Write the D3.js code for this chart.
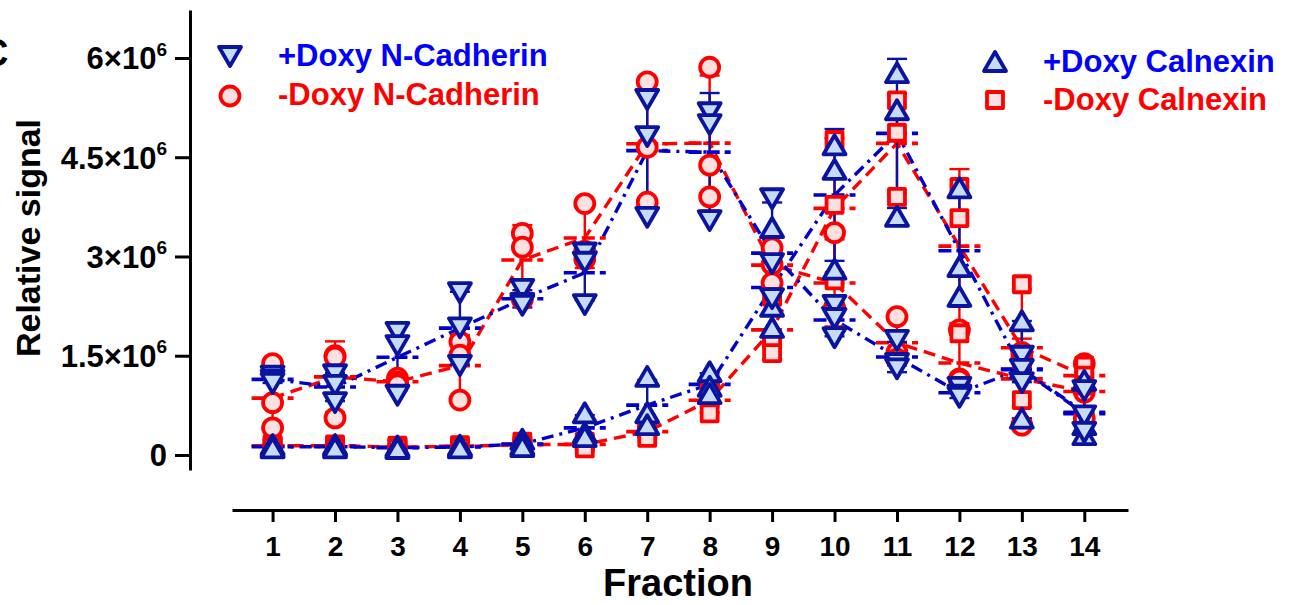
<!DOCTYPE html>
<html><head><meta charset="utf-8">
<script src="https://cdn.jsdelivr.net/npm/d3@7/dist/d3.min.js"></script>
<style>
body{margin:0;background:#fff}
svg{display:block}
text{font-family:"Liberation Sans",Arial,Helvetica,sans-serif;font-weight:bold}
</style>
</head><body>
<svg id="chart" width="1291" height="605"></svg>
<script>
// ---------- data (values in units of 10^6) ----------
const fractions = [1,2,3,4,5,6,7,8,9,10,11,12,13,14];
const xTickLabels = ["1","2","3","4","5","6","7","8","9","10","11","12","13","14"];
const yTickValues = [0,1.5,3,4.5,6];
const yTickBases = ["0","1.5","3","4.5","6"];

const seriesNames = ["+Doxy N-Cadherin","-Doxy N-Cadherin","+Doxy Calnexin","-Doxy Calnexin"];

const ncadPlus = [[1.20,1.14,1.09],[1.22,1.06,0.80],[1.86,1.66,0.91],[2.46,1.93,1.36],[2.51,2.30,2.27],[3.06,2.92,2.28],[5.38,4.82,3.60],[5.18,5.00,3.55],[3.88,2.90,2.37],[2.27,2.07,1.78],[1.74,1.39,1.31],[1.03,0.91,0.88],[1.50,1.30,1.10],[0.98,0.60,0.35]];
const ncadMinus = [[1.38,0.79,0.41],[1.50,1.48,0.56],[1.16,1.10,1.06],[1.71,1.51,0.83],[3.35,3.14,2.35],[3.80,3.08,2.96],[5.64,4.65,3.82],[5.86,4.38,3.90],[3.13,2.88,2.60],[3.36,2.22,2.22],[2.09,1.55,1.45],[1.89,1.15,1.13],[1.55,1.45,0.45],[1.38,0.95,0.55]];
const calPlus = [[0.15,0.12,0.10],[0.15,0.13,0.10],[0.13,0.11,0.09],[0.14,0.12,0.10],[0.23,0.15,0.12],[0.63,0.33,0.27],[1.18,0.63,0.45],[1.25,1.03,0.92],[3.43,2.24,1.92],[4.68,4.31,2.80],[5.77,5.21,3.60],[4.03,2.84,2.39],[2.02,1.30,0.55],[1.12,0.45,0.30]];
const calMinus = [[0.16,0.14,0.12],[0.16,0.14,0.12],[0.14,0.12,0.10],[0.15,0.13,0.11],[0.20,0.15,0.12],[0.20,0.18,0.10],[0.42,0.38,0.26],[1.00,0.85,0.63],[2.39,1.74,1.54],[4.76,3.78,2.64],[5.36,4.87,3.90],[4.05,3.58,1.84],[2.58,1.45,0.83],[1.35,1.20,1.05]];

// ---------- styles ----------
const BLUE_LINE = "#0000cc", BLUE_MARK = "#0a149e", BLUE_FILL = "#c6dcf6", BLUE_TEXT = "#0000ff";
const RED = "#ff0000", RED_FILL = "#fde0e0";
const DASH_RED = "12,7", DASH_BLUE = "12,6,3,6";

const series = [
  {name: seriesNames[1], data: ncadMinus, shape: "circle", stroke: RED, fill: RED_FILL, line: RED, dash: DASH_RED},
  {name: seriesNames[3], data: calMinus, shape: "square", stroke: RED, fill: RED_FILL, line: RED, dash: DASH_RED},
  {name: seriesNames[2], data: calPlus, shape: "up", stroke: BLUE_MARK, fill: BLUE_FILL, line: BLUE_LINE, dash: DASH_BLUE},
  {name: seriesNames[0], data: ncadPlus, shape: "down", stroke: BLUE_MARK, fill: BLUE_FILL, line: BLUE_LINE, dash: DASH_BLUE}
];

const svg = d3.select("#chart");
const x = d3.scaleLinear().domain([0.35, 14.7]).range([232, 1128]);
const y = d3.scaleLinear().domain([-0.227, 6.725]).range([470, 10]);

function shapePath(s){
  if (s === "down") return "M-11,-9L11,-9L0,10Z";
  if (s === "up") return "M-11,9L11,9L0,-10Z";
  if (s === "square") return "M-8,-8L8,-8L8,8L-8,8Z";
  return d3.symbol(d3.symbolCircle, Math.PI*9.5*9.5)();
}

// ---------- axes ----------
const yAxis = d3.axisLeft(y).tickValues(yTickValues).tickSize(15).tickSizeOuter(0).tickPadding(9)
  .tickFormat(()=> "");
const gy = svg.append("g").attr("transform","translate(190,0)").call(yAxis);
gy.select(".domain").attr("stroke","#000").attr("stroke-width",3);
gy.selectAll(".tick line").attr("stroke","#000").attr("stroke-width",3);
gy.selectAll(".tick text").each(function(d,i){
  const t = d3.select(this).attr("font-size",31).attr("fill","#000").attr("x",-23).attr("dy","0.35em");
  t.append("tspan").text(yTickBases[i] === "0" ? "0" : yTickBases[i] + "×10");
  if (yTickBases[i] !== "0") t.append("tspan").attr("font-size",19).attr("dy","-0.72em").text("6");
});

const xAxis = d3.axisBottom(x).tickValues(fractions).tickSize(12).tickSizeOuter(0).tickPadding(14)
  .tickFormat((d,i)=> xTickLabels[i]);
const gx = svg.append("g").attr("transform","translate(0,510)").call(xAxis);
gx.select(".domain").attr("stroke","#000").attr("stroke-width",3);
gx.selectAll(".tick line").attr("stroke","#000").attr("stroke-width",3);
gx.selectAll(".tick text").attr("font-size",28).attr("fill","#000");

svg.append("text").attr("x",678).attr("y",596).attr("text-anchor","middle")
  .attr("font-size",38).attr("fill","#000").text("Fraction");
svg.append("text").attr("transform","translate(40,238) rotate(-90)").attr("text-anchor","middle")
  .attr("font-size",34).attr("fill","#000").text("Relative signal");
svg.append("text").attr("x",-19).attr("y",66).attr("font-size",38).attr("fill","#000").text("C");

// ---------- connecting lines ----------
const plot = svg.append("g");
series.forEach(s=>{
  const means = s.data.map(v=>d3.mean(v));
  plot.append("path").datum(means)
    .attr("d", d3.line().x((d,i)=>x(fractions[i])).y(d=>y(d)))
    .attr("fill","none").attr("stroke",s.line).attr("stroke-width",3.4)
    .attr("stroke-dasharray",s.dash);
});

// ---------- mean bars and error bars ----------
series.forEach(s=>{
  s.data.forEach((v,i)=>{
    const m = d3.mean(v), sd = d3.deviation(v), cx = x(fractions[i]);
    const g = plot.append("g");
    g.append("line").attr("x1",cx).attr("x2",cx).attr("y1",y(m-sd)).attr("y2",y(m+sd))
      .attr("stroke",s.stroke).attr("stroke-width",2.4);
    [m-sd, m+sd].forEach(e=>{
      g.append("line").attr("x1",cx-10).attr("x2",cx+10).attr("y1",y(e)).attr("y2",y(e))
        .attr("stroke",s.stroke).attr("stroke-width",2.4);
    });
    g.append("line").attr("x1",cx-21).attr("x2",cx+21).attr("y1",y(m)).attr("y2",y(m))
      .attr("stroke",s.line).attr("stroke-width",3.6).attr("stroke-dasharray","13,5");
  });
});

// ---------- points ----------
series.forEach(s=>{
  s.data.forEach((v,i)=>{
    v.forEach(val=>{
      plot.append("path").attr("d",shapePath(s.shape))
        .attr("transform",`translate(${x(fractions[i])},${y(val)})`)
        .attr("fill",s.fill).attr("stroke",s.stroke).attr("stroke-width",3.8)
        .attr("stroke-linejoin","round");
    });
  });
});

// ---------- legend ----------
const legendItems = [
  {shape:"down", stroke:BLUE_MARK, fill:BLUE_FILL, color:BLUE_TEXT, text:seriesNames[0], sx:230, sy:56, tx:278, ty:66},
  {shape:"circle", stroke:RED, fill:RED_FILL, color:RED, text:seriesNames[1], sx:230, sy:96, tx:278, ty:105},
  {shape:"up", stroke:BLUE_MARK, fill:BLUE_FILL, color:BLUE_TEXT, text:seriesNames[2], sx:995, sy:62, tx:1043, ty:72},
  {shape:"square", stroke:RED, fill:RED_FILL, color:RED, text:seriesNames[3], sx:995, sy:100, tx:1043, ty:110}
];
legendItems.forEach(l=>{
  svg.append("path").attr("d",shapePath(l.shape)).attr("transform",`translate(${l.sx},${l.sy})`)
    .attr("fill",l.fill).attr("stroke",l.stroke).attr("stroke-width",3.8).attr("stroke-linejoin","round");
  svg.append("text").attr("x",l.tx).attr("y",l.ty).attr("font-size",31).attr("fill",l.color).text(l.text);
});
</script>
</body></html>
